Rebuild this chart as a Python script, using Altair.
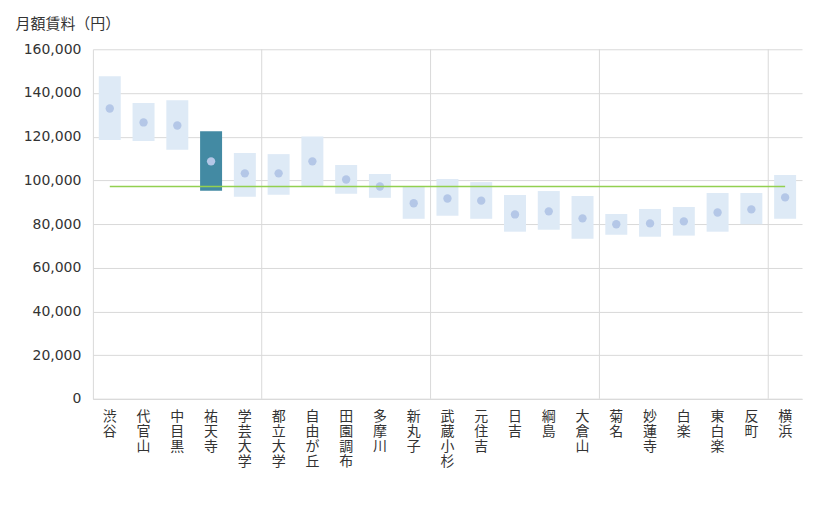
import altair as alt
import pandas as pd

stations = ["渋谷", "代官山", "中目黒", "祐天寺", "学芸大学", "都立大学", "自由が丘",
            "田園調布", "多摩川", "新丸子", "武蔵小杉", "元住吉", "日吉", "綱島", "大倉山",
            "菊名", "妙蓮寺", "白楽", "東白楽", "反町", "横浜"]
low = [118500, 118000, 114000, 95200, 92500, 93400, 97400, 93900, 92000, 82400, 83800,
       82400, 76500, 77400, 73300, 75100, 74200, 74700, 76500, 79900, 82400]
high = [147700, 135400, 136700, 122500, 112500, 112000, 120100, 107000, 102900, 97000,
        100600, 99200, 93300, 95100, 92800, 84600, 86900, 87800, 94200, 94200, 102400]
avg = [132900, 126500, 125100, 108700, 103200, 103200, 108700, 100400, 97200, 89500,
       91700, 90700, 84400, 85800, 82600, 79900, 80300, 81200, 85300, 86700, 92200]
overall = 97200
highlight = "祐天寺"
group_edges = ["都立大学", "武蔵小杉", "菊名", "横浜"]

df = pd.DataFrame({"station": stations, "low": low, "high": high, "avg": avg})
df["overall"] = overall
edges = pd.DataFrame({"station": group_edges})

FONT = "DejaVu Sans, Noto Sans CJK JP"

x = alt.X("station:N", sort=stations, title=None,
          scale=alt.Scale(paddingInner=0, paddingOuter=0))
yscale = alt.Scale(domain=[0, 160000])

bars = alt.Chart(df).mark_bar(size=22).encode(
    x=x,
    y=alt.Y("low:Q", scale=yscale, title="月額賃料（円）",
            axis=alt.Axis(format=",d", values=list(range(0, 160001, 20000)))),
    y2="high:Q",
    color=alt.condition(alt.datum.station == highlight,
                        alt.value("#438aa3"), alt.value("#deeaf6")),
)

dots = alt.Chart(df).mark_circle(size=70, opacity=1, color="#b4c7e7").encode(
    x=x, y=alt.Y("avg:Q", scale=yscale)
)

line = alt.Chart(df).mark_line(color="#92d050", strokeWidth=1.5).encode(
    x=x, y=alt.Y("overall:Q", scale=yscale)
)

vrules = alt.Chart(edges).mark_rule(color="#d9d9d9", strokeWidth=1).encode(
    x=alt.X("station:N", sort=stations, bandPosition=0, title=None)
)

chart = alt.layer(vrules, bars, dots, line).properties(
    width=710, height=350,
    autosize=alt.AutoSizeParams(type="none"),
    padding={"left": 85, "top": 41, "right": 10, "bottom": 100},
).configure_view(stroke=None).configure_axis(
    labelFont=FONT, titleFont=FONT, labelColor="#333333", titleColor="#333333",
    gridColor="#d9d9d9", domainColor="#d9d9d9", ticks=False,
).configure_axisY(
    labelFontSize=14, labelPadding=12, titleAngle=0, titleAlign="left",
    titleBaseline="middle", titleX=-78, titleY=-26, titleFontSize=15,
    titleFontWeight="normal",
).configure_axisX(
    labelAngle=0, labelFontSize=14, labelLineHeight=15, labelPadding=11,
    labelBaseline="top", labelAlign="center", grid=False,
    labelExpr="split(datum.label, '')",
)

chart.save("out.html", embed_options={"renderer": "svg", "actions": False})
